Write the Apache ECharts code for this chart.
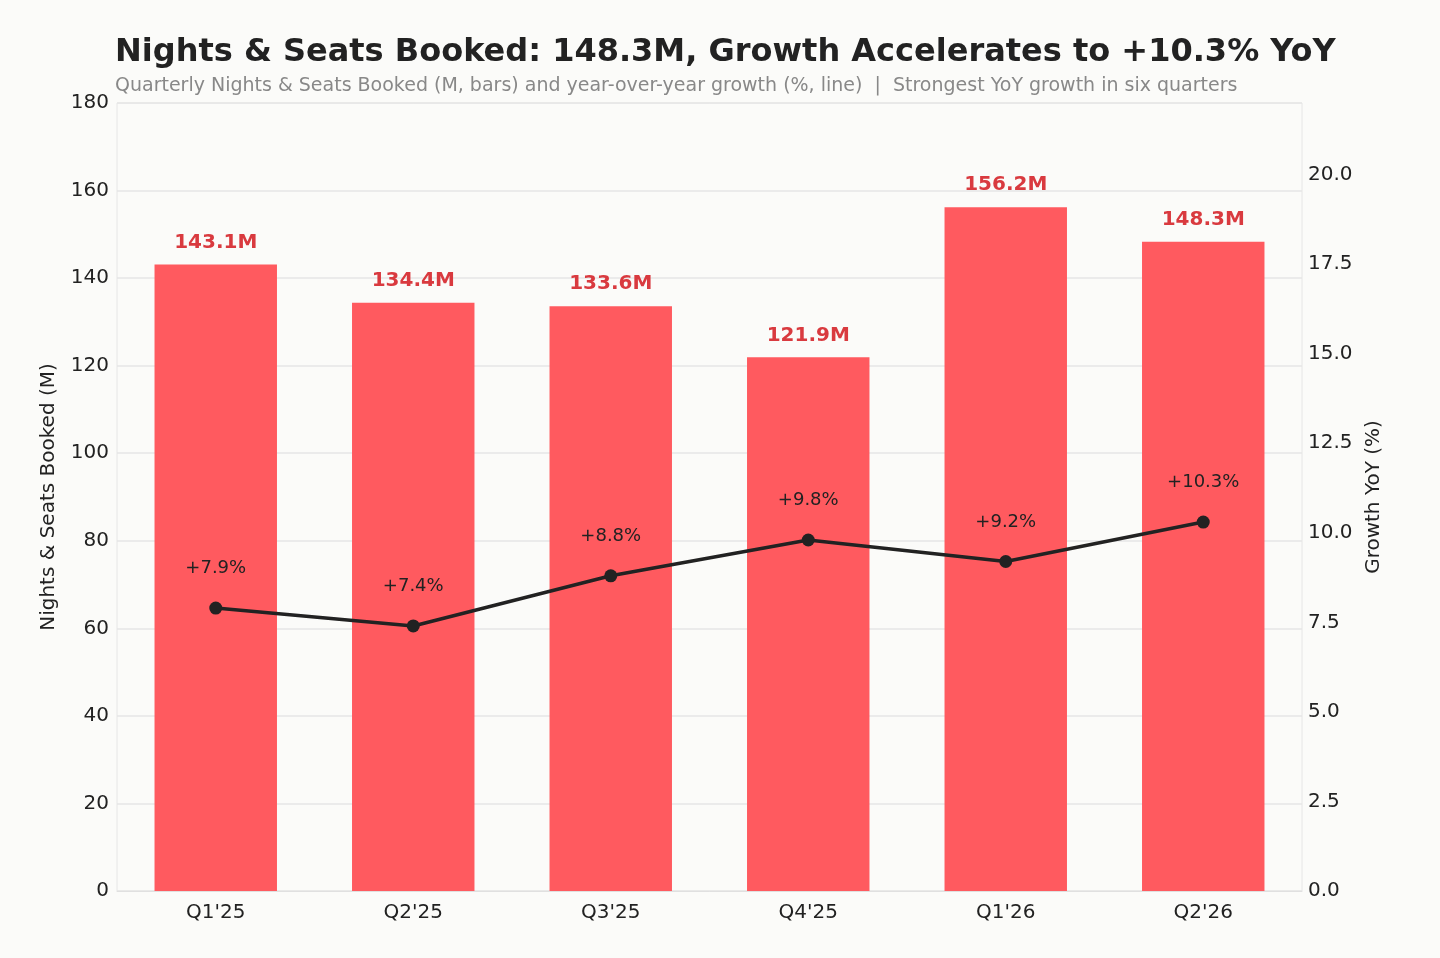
<!DOCTYPE html>
<html><head><meta charset="utf-8">
<script src="https://cdn.jsdelivr.net/npm/echarts@6/dist/echarts.min.js"></script>
<style>html,body{margin:0;background:#fbfbf9}#c{width:1440px;height:958px}</style>
</head><body><div id="c"></div>
<script>
const categories = ["Q1'25","Q2'25","Q3'25","Q4'25","Q1'26","Q2'26"];
const booked = [143.1,134.4,133.6,121.9,156.2,148.3];
const growth = [7.9,7.4,8.8,9.8,9.2,10.3];
const chart = echarts.init(document.getElementById('c'));
const F = 'DejaVu Sans';
chart.setOption({
  backgroundColor:'#fbfbf9',
  textStyle:{fontFamily:F},
  title:{text:'Nights & Seats Booked: 148.3M, Growth Accelerates to +10.3% YoY',
    subtext:'Quarterly Nights & Seats Booked (M, bars) and year-over-year growth (%, line)  |  Strongest YoY growth in six quarters',
    left:110, top:32, itemGap:8,
    textStyle:{fontFamily:F,fontSize:32,fontWeight:'bold',color:'#222'},
    subtextStyle:{fontFamily:F,fontSize:19,color:'#888'}},
  grid:{left:117,right:138,top:103,bottom:67,show:true,borderColor:'#e6e6e6',borderWidth:1,backgroundColor:'transparent'},
  xAxis:{type:'category',data:categories,axisTick:{show:false},
    axisLine:{lineStyle:{color:'#e0e0e0'}},
    axisLabel:{color:'#222',fontSize:20,margin:12}},
  yAxis:[{type:'value',min:0,max:180,interval:20,name:'Nights & Seats Booked (M)',
    nameLocation:'middle',nameGap:58,nameTextStyle:{fontSize:20,color:'#222'},
    axisLabel:{color:'#222',fontSize:20},splitLine:{lineStyle:{color:'#e6e6e6',width:1.5}},
    axisLine:{show:false},axisTick:{show:false}},
   {type:'value',min:0,max:22,interval:2.5,name:'Growth YoY (%)',
    nameLocation:'middle',nameGap:62,nameTextStyle:{fontSize:20,color:'#222'},
    axisLabel:{color:'#222',fontSize:20,margin:6,formatter:v=>v>21?'':v.toFixed(1)},
    splitLine:{show:false},axisLine:{show:false},axisTick:{show:false}}],
  series:[{type:'bar',data:booked,barWidth:'62%',itemStyle:{color:'#ff5a5f'},
     label:{show:true,position:'top',distance:12,formatter:p=>p.value.toFixed(1)+'M',color:'#d93a3f',fontWeight:'bold',fontSize:20}},
    {type:'line',yAxisIndex:1,data:growth,symbol:'circle',symbolSize:13,
     lineStyle:{color:'#222',width:3.5},itemStyle:{color:'#222'},
     label:{show:true,position:'top',distance:24,formatter:p=>'+'+p.value.toFixed(1)+'%',color:'#222',fontSize:18}}]
});
</script></body></html>
